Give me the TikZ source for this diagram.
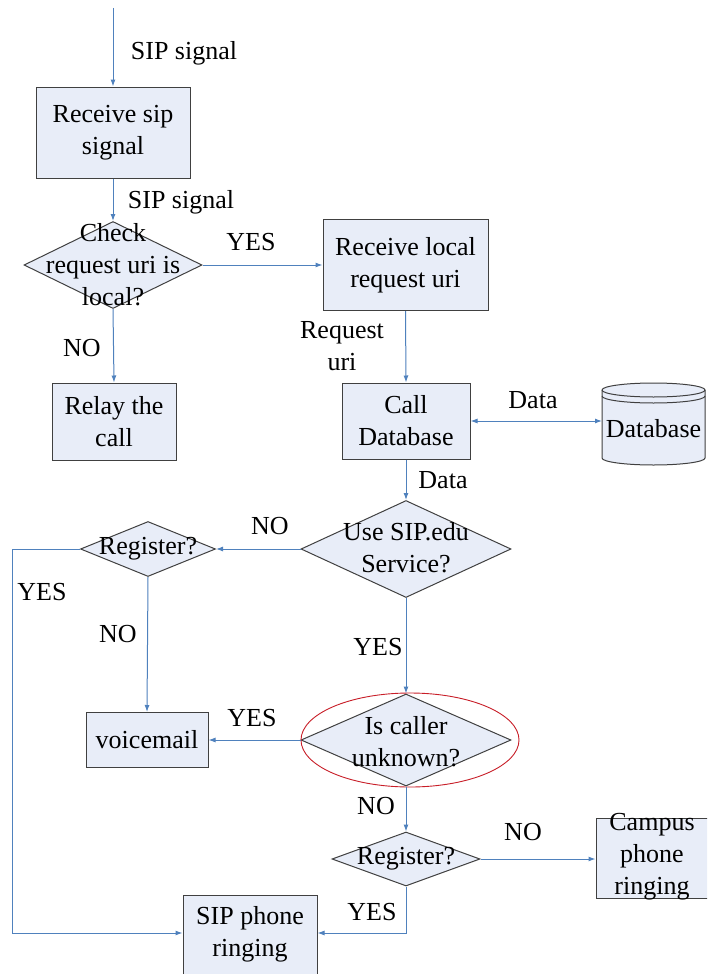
\documentclass[tikz,border=0pt]{standalone}
\usepackage{fontspec}
\setmainfont{LiberationSerif-Regular.ttf}
\usetikzlibrary{shapes.geometric,arrows.meta}

\definecolor{boxfill}{RGB}{232,237,248}
\definecolor{boxline}{RGB}{64,64,64}
\definecolor{flow}{RGB}{79,129,189}
\definecolor{ringred}{RGB}{200,30,40}

\begin{document}
\begin{tikzpicture}[
  x=1pt, y=1pt,
  every node/.style={font=\fontsize{26}{32}\selectfont, text=black},
  procbox/.style={draw=boxline, fill=boxfill, line width=1pt, align=center,
                  inner sep=0pt, minimum width=#1},
  procbox/.default=120,
  decision/.style={diamond, draw=boxline, fill=boxfill, line width=1pt,
                   inner sep=0pt, aspect=2},
  dtext/.style={align=center, inner sep=0pt},
  flowline/.style={draw=flow, line width=1pt, -{Latex[length=7pt,width=5pt]}},
  tag/.style={align=center, inner sep=0pt},
]
\clip (0,0) rectangle (707,-974);
\fill[white] (0,0) rectangle (707,-974);

% ---- nodes ----
\coordinate (in) at (113,-8);
\node[procbox=154, minimum height=91] (rs) at (113,-132.5) {Receive sip\\signal};

\node[decision, minimum width=178, minimum height=87] (chk) at (113,-265) {};
\node[dtext] (chkt) at (chk) {Check\\request uri is\\local?};

\node[procbox=165, minimum height=91] (rl) at (405.5,-265) {Receive local\\request uri};
\node[procbox=124, minimum height=77] (relay) at (114,-421.5) {Relay the\\call};
\node[procbox=128, minimum height=76] (cdb) at (406,-421) {Call\\Database};

% database cylinder
\filldraw[draw=boxline, fill=boxfill, line width=1pt]
  (602,-390) -- (602,-458)
  arc[start angle=180, end angle=360, x radius=51.5, y radius=7]
  -- (705,-390)
  arc[start angle=0, end angle=180, x radius=51.5, y radius=7] -- cycle;
\draw[boxline, line width=1pt]
  (602,-390) arc[start angle=180, end angle=360, x radius=51.5, y radius=7];
\draw[boxline, line width=1pt]
  (602,-396) arc[start angle=180, end angle=360, x radius=51.5, y radius=7];
\node[inner sep=0pt, minimum width=103, minimum height=76] (db) at (653.5,-429) {Database};

\node[decision, minimum width=210, minimum height=97] (usip) at (406,-549) {};
\node[dtext] (usipt) at (406,-548) {Use SIP.edu\\Service?};

\node[decision, minimum width=135, minimum height=55] (reg1) at (148,-549) {};
\node[dtext] (reg1t) at (reg1) {Register?};

\node[procbox=122, minimum height=55] (vm) at (147,-740) {voicemail};

\node[decision, minimum width=210, minimum height=92] (isc) at (406,-740) {};
\node[dtext] (isct) at (406,-742) {Is caller\\unknown?};
\draw[ringred, line width=0.9pt] (410,-740) ellipse[x radius=109, y radius=47];

\node[decision, minimum width=148, minimum height=54] (reg2) at (406,-859) {};
\node[dtext] (reg2t) at (reg2) {Register?};

\node[procbox=124, minimum height=80] (campus) at (658,-858) {};
\node[dtext] (campust) at (652,-857) {Campus\\phone\\ringing};

\node[procbox=134, minimum height=82] (sip) at (250,-936) {};
\node[dtext] (sipt) at (250,-934) {SIP phone\\ringing};

\coordinate (loop) at (12,-549);

% ---- connectors ----
\draw[flowline] (in) -- (rs.north);
\draw[flowline] (rs.south) -- (chk.north);
\draw[flowline] (chk.east) -- (rl.west);
\draw[flowline] (chk.south) -- (relay.north);
\draw[flowline] (rl.south) -- (cdb.north);
\draw[flowline, {Latex[length=7pt,width=5pt]}-{Latex[length=7pt,width=5pt]}]
  (cdb.east) -- (602,-421);
\draw[flowline] (cdb.south) -- (usip.north);
\draw[flowline] (usip.west) -- (reg1.east);
\draw[flowline] (reg1.west) -- (loop) |- (sip.west |- 0,-933);
\draw[flowline] (reg1.south) -- (vm.north);
\draw[flowline] (usip.south) -- (isc.north);
\draw[flowline] (isc.west) -- (vm.east);
\draw[flowline] (isc.south) -- (reg2.north);
\draw[flowline] (reg2.east) -- (campus.west |- reg2.east);
\draw[flowline] (reg2.south) |- (sip.east |- 0,-933);

% ---- connector labels ----
\node[tag] (l1) at (184,-53) {SIP signal};
\node[tag] (l2) at (181,-202) {SIP signal};
\node[tag] (l3) at (251,-242) {YES};
\node[tag] (l4) at (82,-348) {NO};
\node[tag] (l5) at (342,-346) {Request\\uri};
\node[tag] (l6) at (533,-400) {Data};
\node[tag] (l7) at (443,-480) {Data};
\node[tag] (l8) at (270,-526) {NO};
\node[tag] (l9) at (42,-592) {YES};
\node[tag] (l10) at (118,-634) {NO};
\node[tag] (l11) at (378,-647) {YES};
\node[tag] (l12) at (252,-718) {YES};
\node[tag] (l13) at (376,-806) {NO};
\node[tag] (l14) at (523,-832) {NO};
\node[tag] (l15) at (372,-912) {YES};
\end{tikzpicture}
\end{document}
